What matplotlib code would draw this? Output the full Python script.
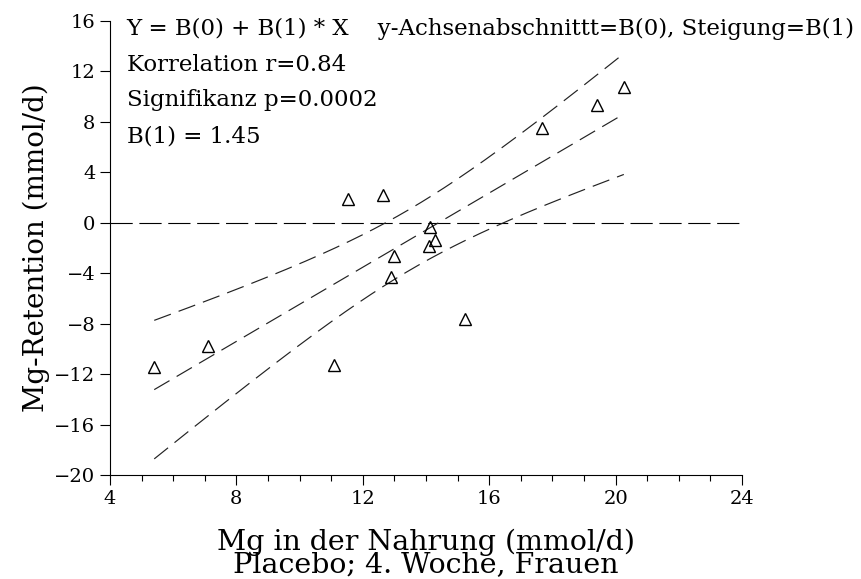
import numpy as np
import matplotlib
matplotlib.use("Agg")
import matplotlib.pyplot as plt

# Mg intake (mmol/d) and Mg retention (mmol/d), placebo, week 4, women
mg_intake = [5.40, 7.10, 11.08, 11.52, 12.65, 12.98, 12.88,
             14.12, 14.28, 14.11, 15.24, 17.68, 19.42, 20.26]
mg_retention = [-11.4, -9.76, -11.3, 1.9, 2.17, -2.63, -4.3,
                -0.33, -1.35, -1.85, -7.6, 7.5, 9.34, 10.77]

x_ticks = [4, 8, 12, 16, 20, 24]
y_ticks = [16, 12, 8, 4, 0, -4, -8, -12, -16, -20]

info_lines = ["Y = B(0) + B(1) * X    y-Achsenabschnittt=B(0), Steigung=B(1)",
              "Korrelation r=0.84",
              "Signifikanz p=0.0002",
              "B(1) = 1.45"]

x = np.array(mg_intake)
y = np.array(mg_retention)

# linear fit + 95% confidence band of the mean
b1, b0 = np.polyfit(x, y, 1)
n = len(x)
resid = y - (b0 + b1 * x)
s = np.sqrt(np.sum(resid ** 2) / (n - 2))
sxx = np.sum((x - x.mean()) ** 2)
t_val = 2.179  # t(0.975, df=12)
xs = np.linspace(x.min(), x.max(), 200)
fit = b0 + b1 * xs
half = t_val * s * np.sqrt(1.0 / n + (xs - x.mean()) ** 2 / sxx)

plt.rcParams['font.family'] = 'DejaVu Serif'
fig = plt.figure(figsize=(8.62, 5.79), dpi=100)
ax = fig.add_axes([0.1276, 0.1796, 0.7332, 0.7841])

ax.plot([4, 24], [0, 0], color='black', lw=0.8, dashes=(20, 6))
ax.plot(xs, fit, color='#222222', lw=0.85, dashes=(15, 7))
ax.plot(xs, fit + half, color='#222222', lw=0.85, dashes=(15, 7))
ax.plot(xs, fit - half, color='#222222', lw=0.85, dashes=(15, 7))
ax.plot(x, y, linestyle='none', marker='^', markersize=8,
        markerfacecolor='none', markeredgecolor='black', markeredgewidth=1)

ax.set_xlim(4, 24)
ax.set_ylim(-20, 16)
ax.set_xticks(x_ticks)
ax.set_xticks(np.arange(4, 25, 1), minor=True)
ax.set_yticks(y_ticks)
ax.tick_params(axis='both', which='major', direction='out', length=7,
               width=0.8, labelsize=14)
ax.tick_params(axis='x', which='minor', direction='out', length=4, width=0.8)
ax.spines['top'].set_visible(False)
ax.spines['right'].set_visible(False)
ax.spines['left'].set_linewidth(0.8)
ax.spines['bottom'].set_linewidth(0.8)

ax.set_xlabel("Mg in der Nahrung (mmol/d)\nPlacebo; 4. Woche, Frauen",
              fontsize=20.5, linespacing=0.78, labelpad=15)
ax.set_ylabel("Mg-Retention (mmol/d)", fontsize=20, labelpad=3)

for i, line in enumerate(info_lines):
    ax.text(4.53, 15.4 - i * 2.85, line, fontsize=16.5, va='center', ha='left')

fig.savefig("out.png", dpi=100)
